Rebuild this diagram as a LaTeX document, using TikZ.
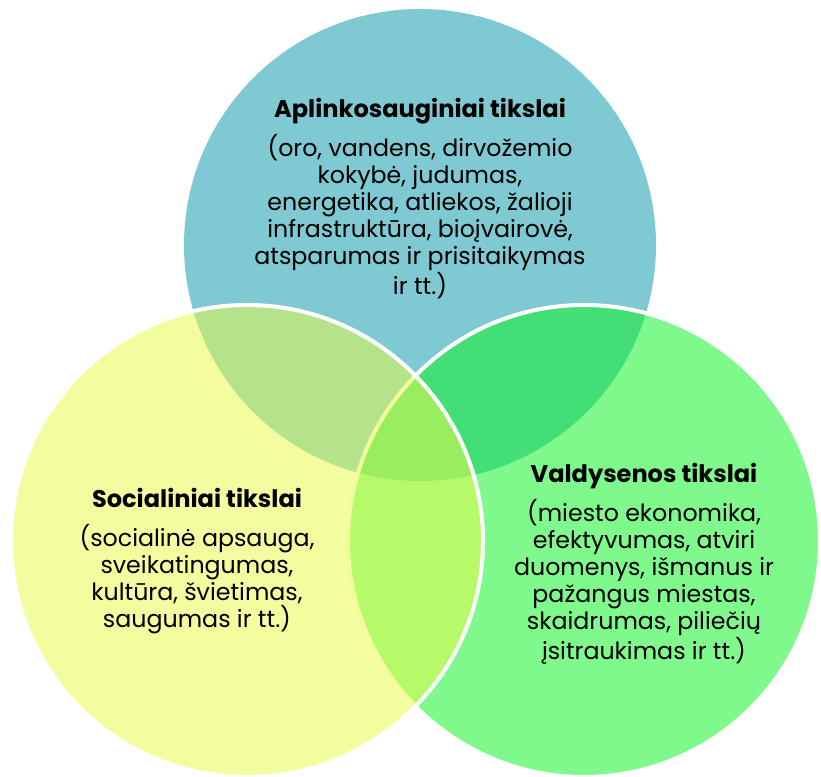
\documentclass[tikz,border=0pt]{standalone}
\usepackage{fontspec}
\setmainfont{Poppins}
\usetikzlibrary{positioning}
\definecolor{envblue}{RGB}{127,201,210}
\definecolor{socyellow}{RGB}{232,251,75}
\definecolor{govgreen}{RGB}{15,243,38}
\tikzset{
  goal/.style={draw=white, line width=0.08cm, fill opacity=0.53},
  goaltitle/.style={font=\fontsize{13.7}{15}\selectfont\bfseries, align=center, inner sep=0pt, anchor=base},
  goaltext/.style={font=\fontsize{13.5}{15.4}\selectfont, align=center, inner sep=0pt},
}
\begin{document}
\begin{tikzpicture}[x=0.02cm, y=0.02cm]
  \useasboundingbox (0,0) rectangle (821,777);

  % the three circles
  \fill[envblue] (420,532) circle (236);
  \draw[goal, fill=govgreen] (584,236) circle (236);
  \draw[goal, fill=socyellow] (247,236) circle (236);

  % environment
  \node[goaltitle] (envtitle) at (420,659) {Aplinkosauginiai tikslai};
  \node[goaltext, below=9pt of envtitle.base] (envtext) {(oro, vandens, dirvožemio\\kokybė, judumas,\\energetika, atliekos, žalioji\\infrastruktūra, bioįvairovė,\\atsparumas ir prisitaikymas\\ir tt.)};

  % social
  \node[goaltitle] (soctitle) at (197,269) {Socialiniai tikslai};
  \node[goaltext, below=9pt of soctitle.base] (soctext) {(socialinė apsauga,\\sveikatingumas,\\kultūra, švietimas,\\saugumas ir tt.)};

  % governance
  \node[goaltitle] (govtitle) at (644,294) {Valdysenos tikslai};
  \node[goaltext, below=9pt of govtitle.base] (govtext) {(miesto ekonomika,\\efektyvumas, atviri\\duomenys, išmanus ir\\pažangus miestas,\\skaidrumas, piliečių\\įsitraukimas ir tt.)};
\end{tikzpicture}
\end{document}
